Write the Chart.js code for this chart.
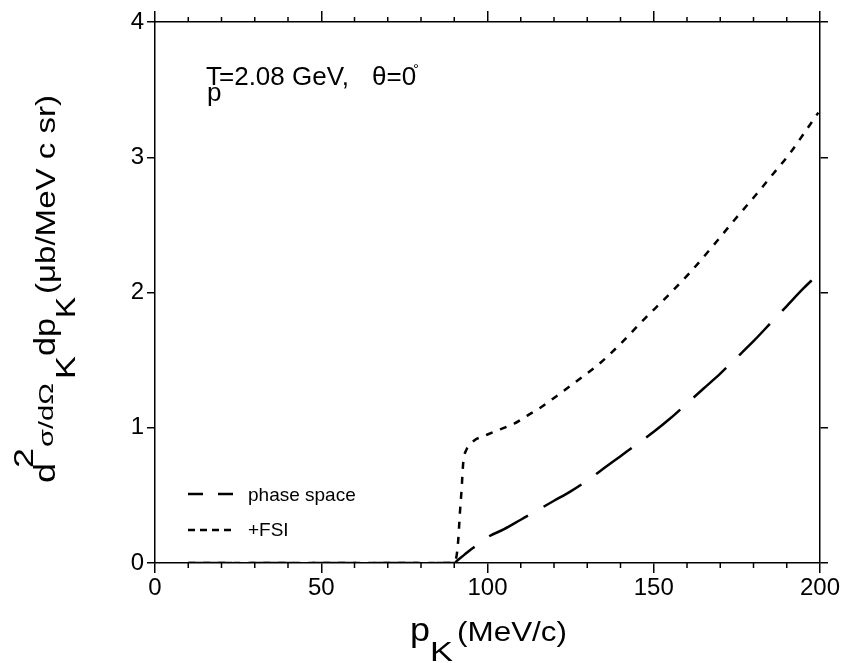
<!DOCTYPE html>
<html>
<head>
<meta charset="utf-8">
<script src="https://cdn.jsdelivr.net/npm/chart.js@4/dist/chart.umd.min.js"></script>
<style>
  html, body { margin: 0; padding: 0; background: #ffffff; }
  #wrap { width: 844px; height: 663px; }
</style>
</head>
<body>
<div id="wrap"><canvas id="chart" width="844" height="663"></canvas></div>
<script>
// ---- data ----
const psX = [10, 90, 91, 93, 95, 98, 100, 105, 110, 115, 120, 125, 130, 135, 140, 145, 150, 155, 160, 165, 170, 175, 180, 185, 190, 195, 197.5];
const psY = [0, 0, 0.02, 0.06, 0.10, 0.15, 0.19, 0.25, 0.32, 0.39, 0.46, 0.53, 0.61, 0.70, 0.79, 0.88, 0.97, 1.07, 1.18, 1.29, 1.40, 1.52, 1.64, 1.77, 1.90, 2.03, 2.09];

const fsiX = [10, 89, 90.5, 91.2, 91.7, 92.2, 92.7, 93.7, 95, 96.2, 98, 100, 104, 108, 112, 116, 120, 126, 133, 140, 147, 154, 161, 168, 174.4, 181, 186, 191, 195, 199.5];
const fsiY = [0, 0, 0.03, 0.17, 0.37, 0.54, 0.74, 0.84, 0.88, 0.91, 0.93, 0.95, 0.99, 1.03, 1.09, 1.15, 1.22, 1.33, 1.46, 1.62, 1.80, 1.97, 2.15, 2.35, 2.54, 2.73, 2.88, 3.03, 3.17, 3.33];

const xTicks = [0, 50, 100, 150, 200];
const xMinorTicks = [10, 20, 30, 40, 60, 70, 80, 90, 110, 120, 130, 140, 160, 170, 180, 190];
const yTicks = [0, 1, 2, 3, 4];

const seriesNames = ['phase space', '+FSI'];

const FONT = "'Liberation Sans', Arial, sans-serif";

function toPoints(xs, ys) {
  return xs.map((x, i) => ({ x: x, y: ys[i] }));
}

// draw one piece of text squeezed/stretched to fit between two positions
function drawPiece(ctx, p, rotated) {
  ctx.save();
  ctx.font = p.size + 'px ' + FONT;
  const w = ctx.measureText(p.text).width;
  const sx = Math.abs(p.end - p.start) / w;
  if (rotated) {
    ctx.translate(p.base, p.start);
    ctx.rotate(-Math.PI / 2);
  } else {
    ctx.translate(p.start, p.base);
  }
  ctx.scale(sx, 1);
  ctx.fillStyle = '#000';
  ctx.textBaseline = 'alphabetic';
  ctx.textAlign = 'left';
  ctx.fillText(p.text, 0, 0);
  ctx.restore();
}

const figurePlugin = {
  id: 'figurePlugin',
  afterDraw(chart) {
    const ctx = chart.ctx;
    const xs = chart.scales.x;
    const area = chart.chartArea;

    // minor ticks top and bottom
    ctx.save();
    ctx.strokeStyle = '#000';
    ctx.lineWidth = 1.5;
    ctx.beginPath();
    xMinorTicks.forEach(v => {
      const px = xs.getPixelForValue(v);
      ctx.moveTo(px, area.bottom);
      ctx.lineTo(px, area.bottom + 5);
      ctx.moveTo(px, area.top);
      ctx.lineTo(px, area.top - 5);
    });
    ctx.stroke();
    ctx.restore();

    // y axis title
    [
      { text: 'd', size: 30, start: 483, end: 463, base: 55 },
      { text: '2', size: 28, start: 468, end: 448, base: 33 },
      { text: '\u03C3/d\u03A9', size: 20, start: 447, end: 383, base: 53 },
      { text: 'K', size: 28, start: 379, end: 356, base: 75 },
      { text: 'dp', size: 30, start: 356, end: 318, base: 55 },
      { text: 'K', size: 28, start: 318, end: 297, base: 75 },
      { text: '(\u03BCb/MeV c sr)', size: 27, start: 294, end: 95, base: 55 }
    ].forEach(p => drawPiece(ctx, p, true));

    // x axis title
    [
      { text: 'p', size: 34, start: 410, end: 430, base: 641 },
      { text: 'K', size: 28, start: 430, end: 453, base: 661 },
      { text: '(MeV/c)', size: 27, start: 457, end: 567, base: 641 }
    ].forEach(p => drawPiece(ctx, p, false));

    // annotation
    ctx.save();
    ctx.fillStyle = '#000';
    ctx.font = '26px ' + FONT;
    ctx.fillText('T', 206, 85);
    ctx.fillText('p', 207, 101);
    ctx.fillText('=2.08 GeV,', 219, 85);
    ctx.fillText('\u03B8=0', 372, 85);
    ctx.font = '15px ' + FONT;
    ctx.fillText('\u00B0', 413, 74);
    ctx.restore();

    // legend
    ctx.save();
    ctx.strokeStyle = '#000';
    ctx.lineWidth = 2.5;
    ctx.setLineDash([15, 15]);
    ctx.beginPath();
    ctx.moveTo(188, 494);
    ctx.lineTo(234, 494);
    ctx.stroke();
    ctx.setLineDash([7, 5]);
    ctx.beginPath();
    ctx.moveTo(188, 530);
    ctx.lineTo(231, 530);
    ctx.stroke();
    ctx.setLineDash([]);
    ctx.fillStyle = '#000';
    ctx.font = '19px ' + FONT;
    ctx.fillText(seriesNames[0], 248, 501);
    ctx.fillText(seriesNames[1], 248, 536);
    ctx.restore();
  }
};

function fixWidth(w) { return s => { s.width = w; }; }
function fixHeight(h) { return s => { s.height = h; }; }

const axisGrid = (len) => ({
  display: true,
  drawOnChartArea: false,
  drawTicks: true,
  tickLength: len,
  color: '#000',
  lineWidth: 1.5
});
const axisBorder = { display: true, color: '#000', width: 1.5 };

new Chart(document.getElementById('chart').getContext('2d'), {
  type: 'line',
  data: {
    datasets: [
      {
        label: seriesNames[0],
        data: toPoints(psX, psY),
        borderColor: '#000',
        borderWidth: 2.5,
        borderDash: [44, 18],
        pointRadius: 0,
        fill: false,
        cubicInterpolationMode: 'monotone'
      },
      {
        label: seriesNames[1],
        data: toPoints(fsiX, fsiY),
        borderColor: '#000',
        borderWidth: 2.5,
        borderDash: [7, 8],
        pointRadius: 0,
        fill: false,
        cubicInterpolationMode: 'monotone'
      }
    ]
  },
  options: {
    responsive: false,
    animation: false,
    devicePixelRatio: 1,
    layout: { padding: 0 },
    plugins: {
      legend: { display: false },
      tooltip: { enabled: false }
    },
    scales: {
      x: {
        type: 'linear', position: 'bottom', min: 0, max: 200,
        afterBuildTicks: s => { s.ticks = xTicks.map(v => ({ value: v })); },
        ticks: { color: '#000', font: { family: FONT, size: 24 }, padding: 1, maxRotation: 0 },
        grid: axisGrid(10), border: axisBorder,
        afterFit: fixHeight(100)
      },
      x2: {
        type: 'linear', position: 'top', min: 0, max: 200,
        afterBuildTicks: s => { s.ticks = xTicks.map(v => ({ value: v })); },
        ticks: { display: false },
        grid: axisGrid(11), border: axisBorder,
        afterFit: fixHeight(22)
      },
      y: {
        type: 'linear', position: 'left', min: 0, max: 4,
        afterBuildTicks: s => { s.ticks = yTicks.map(v => ({ value: v })); },
        ticks: { color: '#000', font: { family: FONT, size: 24 }, padding: 3 },
        grid: axisGrid(8), border: axisBorder,
        afterFit: fixWidth(155)
      },
      y2: {
        type: 'linear', position: 'right', min: 0, max: 4,
        afterBuildTicks: s => { s.ticks = yTicks.map(v => ({ value: v })); },
        ticks: { display: false },
        grid: axisGrid(8), border: axisBorder,
        afterFit: fixWidth(24)
      }
    }
  },
  plugins: [figurePlugin]
});
</script>
</body>
</html>
